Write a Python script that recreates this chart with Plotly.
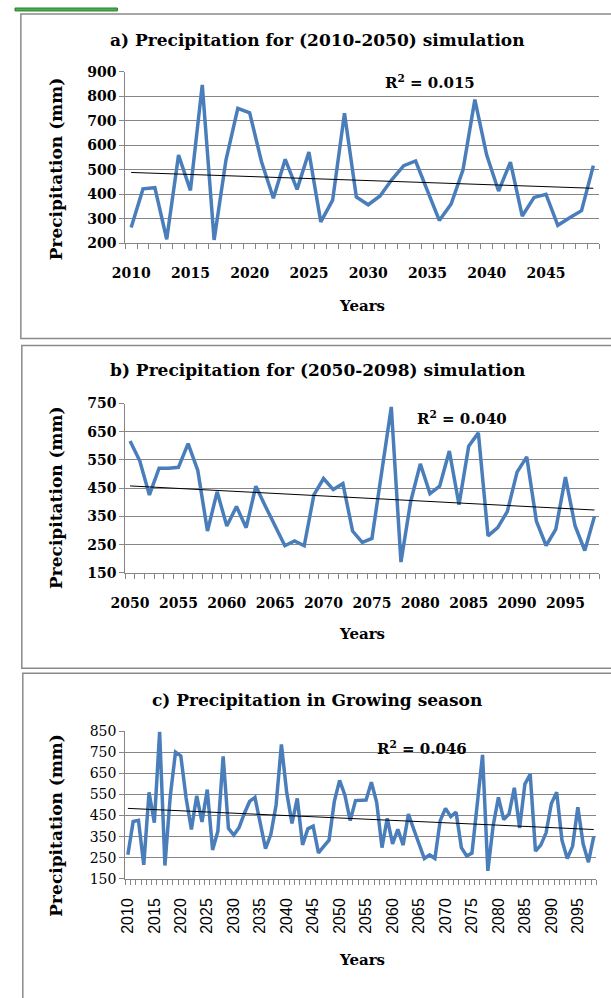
import numpy as np
import plotly.graph_objects as go

# ---------------- data ----------------
years_a = list(range(2010, 2050))
precip_a = [264, 422, 427, 216, 560, 416, 847, 213, 540, 751,
            733, 533, 384, 543, 420, 573, 287, 376, 731, 389,
            357, 393, 460, 517, 536, 413, 293, 360, 500, 787,
            560, 413, 531, 311, 387, 400, 273, 304, 333, 517]

years_b = list(range(2050, 2099))
precip_b = [617, 547, 426, 521, 521, 524, 608, 513, 298, 437,
            316, 385, 310, 457, 385, 316, 246, 263, 246, 426,
            484, 445, 466, 298, 258, 272, 500, 738, 188, 402,
            536, 431, 457, 582, 391, 599, 646, 281, 310, 368,
            507, 561, 333, 246, 304, 489, 316, 229, 350]

years_c = years_a + years_b
precip_c = precip_a + precip_b

ticks_a = list(range(2010, 2050, 5))
ticks_b = list(range(2050, 2099, 5))
ticks_c = list(range(2010, 2099, 5))

titles = ["a) Precipitation for (2010-2050) simulation",
          "b) Precipitation for (2050-2098) simulation",
          "c) Precipitation in Growing season"]
r2_texts = ["R<sup>2</sup> = 0.015", "R<sup>2</sup> = 0.040", "R<sup>2</sup> = 0.046"]

# ---------------- layout helpers ----------------
W, H = 611, 998
def px_x(x):
    return x / W
def px_y(y):
    return 1 - y / H

LINE_COLOR = "#4A7EBB"
GRID = "#868686"
SERIF = "DejaVu Serif"

fig = go.Figure()

panels = [
    dict(years=years_a, vals=precip_a, ticks=ticks_a, xax="x", yax="y",
         xdom=[113, 599], ydom=[65, 239], yr=[200, 900], ydt=100,
         ticklab=dict(family=SERIF, size=14, color="black", weight="bold"),
         xlab=dict(family=SERIF, size=14, color="black", weight="bold"),
         tickangle=0, standoff=17),
    dict(years=years_b, vals=precip_b, ticks=ticks_b, xax="x2", yax="y2",
         xdom=[113, 599], ydom=[402, 574], yr=[150, 750], ydt=100,
         ticklab=dict(family=SERIF, size=14, color="black", weight="bold"),
         xlab=dict(family=SERIF, size=14, color="black", weight="bold"),
         tickangle=0, standoff=17),
    dict(years=years_c, vals=precip_c, ticks=ticks_c, xax="x3", yax="y3",
         xdom=[113, 596], ydom=[735, 885], yr=[150, 850], ydt=100,
         ticklab=dict(family=SERIF, size=14, color="black"),
         xlab=dict(family="Liberation Sans", size=16, color="black"),
         tickangle=-90, standoff=12),
]

for i, p in enumerate(panels):
    x = np.array(p["years"], dtype=float)
    y = np.array(p["vals"], dtype=float)
    fig.add_trace(go.Scatter(x=p["years"], y=p["vals"], mode="lines",
                             line=dict(color=LINE_COLOR, width=3.5),
                             xaxis=p["xax"], yaxis=p["yax"], showlegend=False))
    k, b = np.polyfit(x, y, 1)
    fig.add_trace(go.Scatter(x=[x[0], x[-1]], y=[k * x[0] + b, k * x[-1] + b],
                             mode="lines", line=dict(color="black", width=1),
                             xaxis=p["xax"], yaxis=p["yax"], showlegend=False))
    sfx = "" if i == 0 else str(i + 1)
    fig.update_layout(**{
        "xaxis" + sfx: dict(
            domain=[px_x(p["xdom"][0]), px_x(p["xdom"][1])],
            anchor="y" + sfx,
            range=[p["years"][0] - 0.5, p["years"][-1] + 0.5],
            tickmode="array", tickvals=p["ticks"],
            ticktext=[str(t) for t in p["ticks"]],
            ticks="", tickangle=p["tickangle"],
            tickfont=p["xlab"], ticklabelstandoff=p["standoff"],
            showline=True, linecolor=GRID, linewidth=1,
            showgrid=False, zeroline=False,
            minor=dict(ticks="outside", tick0=p["years"][0] - 0.5, dtick=1,
                       ticklen=5, tickcolor=GRID, tickwidth=1, showgrid=False),
        ),
        "yaxis" + sfx: dict(
            domain=[px_y(p["ydom"][1]), px_y(p["ydom"][0])],
            anchor="x" + sfx,
            range=p["yr"], tickmode="linear", tick0=p["yr"][0], dtick=p["ydt"],
            ticks="outside", ticklen=5, tickcolor=GRID,
            tickfont=p["ticklab"],
            showline=True, linecolor=GRID, linewidth=1,
            showgrid=True, gridcolor=GRID, gridwidth=1, zeroline=False,
        ),
    })

# panel frames
frames = [(6, 6, 640, 336), (7, 343, 640, 671), (8, 676, 640, 1010)]
shapes = []
for (x0, y0, x1, y1) in frames:
    shapes.append(dict(type="rect", xref="paper", yref="paper",
                       x0=px_x(x0), x1=px_x(x1), y0=px_y(y1), y1=px_y(y0),
                       line=dict(color="#8a8a8a", width=1.5), fillcolor="rgba(0,0,0,0)",
                       layer="below"))
shapes.append(dict(type="rect", xref="paper", yref="paper",
                   x0=0, x1=px_x(105), y0=px_y(3), y1=1,
                   line=dict(color="#2e7d32", width=1), fillcolor="#4caf50"))

annotations = []
title_y = [33, 368, 703]
years_y = [303, 636, 968]
ylab_y = [163, 497, 830]
r2_pos = [(425, 75), (458, 417), (417, 752)]
for i in range(3):
    annotations.append(dict(text=titles[i], x=px_x(310), y=px_y(title_y[i]),
                            xref="paper", yref="paper", showarrow=False,
                            xanchor="center", yanchor="middle",
                            font=dict(family=SERIF, size=17, color="black", weight="bold")))
    annotations.append(dict(text="Years", x=px_x(356), y=px_y(years_y[i]),
                            xref="paper", yref="paper", showarrow=False,
                            xanchor="center", yanchor="middle",
                            font=dict(family=SERIF, size=15, color="black", weight="bold")))
    annotations.append(dict(text="Precipitation (mm)", x=px_x(42), y=px_y(ylab_y[i]),
                            xref="paper", yref="paper", showarrow=False, textangle=-90,
                            xanchor="center", yanchor="middle",
                            font=dict(family=SERIF, size=17, color="black", weight="bold")))
    annotations.append(dict(text=r2_texts[i], x=px_x(r2_pos[i][0]), y=px_y(r2_pos[i][1]),
                            xref="paper", yref="paper", showarrow=False,
                            xanchor="center", yanchor="middle",
                            font=dict(family=SERIF, size=15, color="black", weight="bold")))

fig.update_layout(width=W, height=H, margin=dict(l=0, r=0, t=0, b=0),
                  paper_bgcolor="white", plot_bgcolor="white",
                  shapes=shapes, annotations=annotations, showlegend=False)

fig.write_html("out.html", config={"displayModeBar": False},
               post_script="document.body.style.margin='0';document.body.style.overflow='hidden';")
